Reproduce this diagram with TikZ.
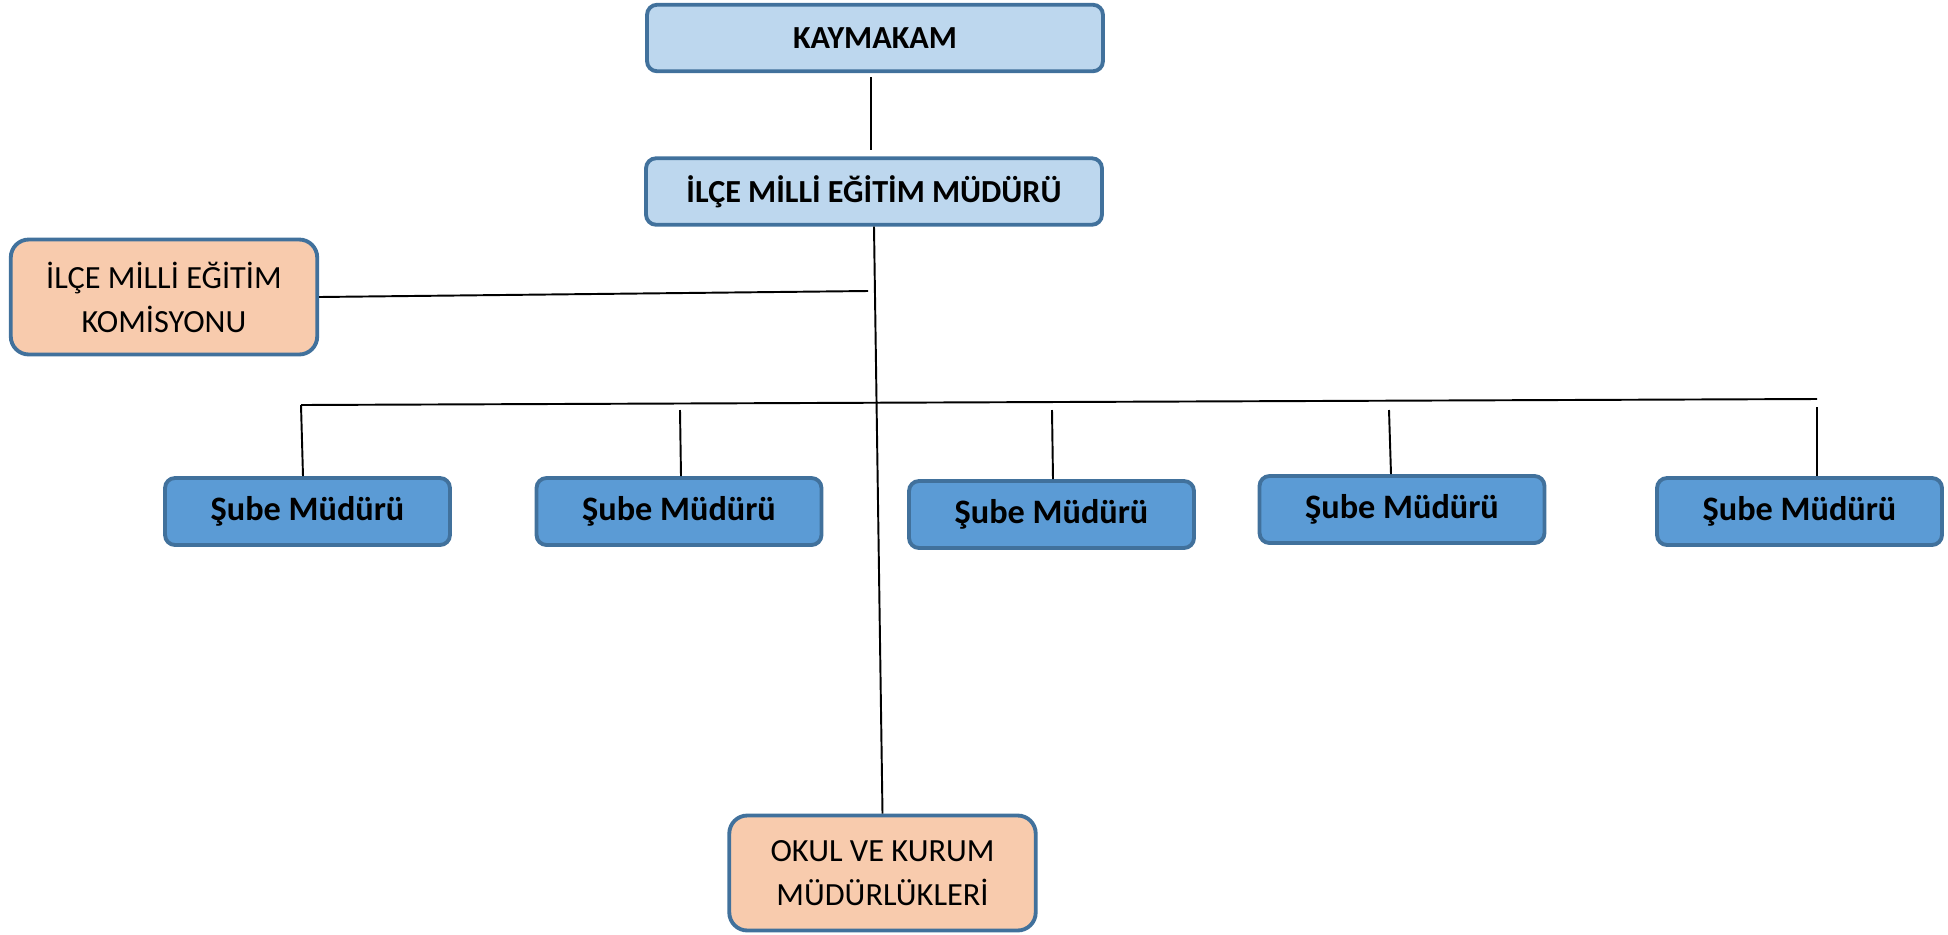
\documentclass[tikz,border=0pt]{standalone}
\usepackage{fontspec}
\setmainfont{Carlito}
\usetikzlibrary{calc}
\definecolor{kenar}{HTML}{41719C}
\definecolor{acikmavi}{HTML}{BDD7EE}
\definecolor{mavi}{HTML}{5B9BD5}
\definecolor{somon}{HTML}{F8CBAD}

\begin{document}
\begin{tikzpicture}[x=0.02cm, y=-0.02cm,
		kutu/.style={draw=kenar, line width=2.2pt, rounded corners=0.2cm, align=center, inner sep=0pt},
		ustkutu/.style={kutu, fill=acikmavi, minimum width=9.12cm, minimum height=1.33cm, font=\fontsize{18.3}{22}\selectfont\bfseries},
		subekutu/.style={kutu, fill=mavi, minimum width=5.7cm, minimum height=1.34cm, font=\fontsize{19.5}{22}\selectfont\bfseries},
		somonkutu/.style={kutu, fill=somon, rounded corners=0.36cm, minimum width=6.13cm, minimum height=2.3cm, font=\fontsize{18.4}{25}\selectfont},
		hat/.style={line width=1.1pt}]
		%%%%% START %%%%%
		
		\useasboundingbox (0, 0) rectangle (1948, 934);
		
		\node[ustkutu] (kaymakam) at (875, 38) {KAYMAKAM};
		\node[ustkutu] (mudur) at (874, 191.5) {İLÇE MİLLİ EĞİTİM MÜDÜRÜ};
		
		\node[somonkutu] (komisyon) at (164, 297) {İLÇE MİLLİ EĞİTİM\\KOMİSYONU};
		\node[somonkutu] (okul) at (882.5, 873) {OKUL VE KURUM\\MÜDÜRLÜKLERİ};
		
		\node[subekutu] (sube1) at (307.5, 511.5) {Şube Müdürü};
		\node[subekutu] (sube2) at (679, 511.5) {Şube Müdürü};
		\node[subekutu] (sube3) at (1051.5, 514.5) {Şube Müdürü};
		\node[subekutu] (sube4) at (1402, 509.5) {Şube Müdürü};
		\node[subekutu] (sube5) at (1799.5, 511.5) {Şube Müdürü};
		
		% baglanti noktalari
		\coordinate (k1) at (871, 77);
		\coordinate (k2) at (871, 150);
		\coordinate (kom) at (868, 291);
		\coordinate (bas) at (301, 405);
		\coordinate (son) at (1817, 399);
		\coordinate (d2) at (680, 410);
		\coordinate (d3) at (1052, 410);
		\coordinate (d4) at (1389, 410);
		\coordinate (d5) at (1817, 407);
		
		\draw[hat] (k1) -- (k2);
		\draw[hat] (mudur.south) -- (okul.north);
		\draw[hat] (komisyon.east) -- (kom);
		\draw[hat] (bas) -- (son);
		
		\draw[hat] (bas) -- ($(bas |- sube1.north)+(2, 0)$);
		\draw[hat] (d2) -- ($(d2 |- sube2.north)+(1, 0)$);
		\draw[hat] (d3) -- ($(d3 |- sube3.north)+(1, 0)$);
		\draw[hat] (d4) -- ($(d4 |- sube4.north)+(2, 0)$);
		\draw[hat] (d5) -- (d5 |- sube5.north);
		
		%%%%% END %%%%%
	\end{tikzpicture}
\end{document}
